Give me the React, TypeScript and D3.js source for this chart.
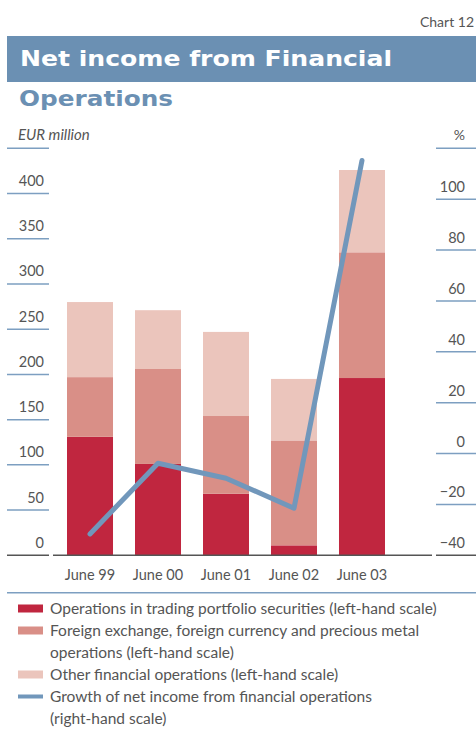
import React from "react";
import * as d3 from "d3";

const categories = ["June 99", "June 00", "June 01", "June 02", "June 03"];
const trading = [131, 101, 68, 11, 196];
const foreignExchange = [66, 105, 86, 116, 139];
const otherOps = [83, 65, 93, 68, 91];
const growth = [-31.6, -3.8, -9.7, -21.5, 115.2];

const leftTicks = [0, 50, 100, 150, 200, 250, 300, 350, 400];
const rightTicks = [-40, -20, 0, 20, 40, 60, 80, 100];

const seriesNames = ["trading", "fx", "other"];
const colors = ["#c0263f", "#d98f87", "#ebc5bc"];
const lineColor = "#7197bb";
const tickBlue = "#7d9fc1";

const legendRows = [
  { kind: "rect", color: colors[0], lines: ["Operations in trading portfolio securities (left-hand scale)"] },
  { kind: "rect", color: colors[1], lines: ["Foreign exchange, foreign currency and precious metal", "operations (left-hand scale)"] },
  { kind: "rect", color: colors[2], lines: ["Other financial operations (left-hand scale)"] },
  { kind: "line", color: lineColor, lines: ["Growth of net income from financial operations", "(right-hand scale)"] },
];

const App = () => {
  const width = 476;
  const height = 731;
  const y0 = 555.3;
  const yTop = 148.3;

  const yLeft = d3.scaleLinear().domain([0, 450]).range([y0, yTop]);
  const yRight = d3.scaleLinear().domain([-40, 120]).range([y0, yTop]);
  const x = d3.scaleBand().domain(categories).range([53, 399]).paddingInner(0.3235).paddingOuter(0.206);

  const table = categories.map((c, i) => ({ cat: c, trading: trading[i], fx: foreignExchange[i], other: otherOps[i] }));
  const stacked = d3.stack<any>().keys(seriesNames)(table);

  const line = d3
    .line<number>()
    .x((_, i) => x(categories[i])! + x.bandwidth() / 2)
    .y((d) => yRight(d));

  const font = "Lato, 'Open Sans', sans-serif";
  const textColor = "#555";

  return (
    <svg width={width} height={height} style={{ position: "absolute", left: 0, top: 0 }} fontFamily={font}>
      <text x={474} y={27} textAnchor="end" fontSize={14} fill={textColor}>Chart 12</text>
      <rect x={7} y={36} width={469} height={46} fill="#6b90b3" />
      <text x={20} y={66} fontSize={22} fontWeight={900} fill="white" fontFamily="'DejaVu Sans', sans-serif" textLength={372} lengthAdjust="spacingAndGlyphs">
        Net income from Financial
      </text>
      <text x={19} y={106} fontSize={22} fontWeight={900} fill="#6b90b3" fontFamily="'DejaVu Sans', sans-serif" textLength={154} lengthAdjust="spacingAndGlyphs">
        Operations
      </text>

      {/* left axis */}
      <text x={18} y={140} fontSize={15} fontStyle="italic" fill={textColor}>EUR million</text>
      <line x1={7} x2={49} y1={yTop} y2={yTop} stroke={tickBlue} strokeWidth={1.5} />
      {leftTicks.map((t) => (
        <g key={"l" + t}>
          {t > 0 && <line x1={7} x2={49} y1={yLeft(t)} y2={yLeft(t)} stroke={tickBlue} strokeWidth={1.5} />}
          <text x={44} y={yLeft(t) - 7.5} textAnchor="end" fontSize={14.5} fill={textColor}>{t}</text>
        </g>
      ))}

      {/* right axis */}
      <text x={465} y={140} textAnchor="end" fontSize={14} fill={textColor}>%</text>
      <line x1={436} x2={476} y1={yTop} y2={yTop} stroke={tickBlue} strokeWidth={1.5} />
      {rightTicks.map((t) => (
        <g key={"r" + t}>
          {t > -40 && <line x1={436} x2={476} y1={yRight(t)} y2={yRight(t)} stroke={tickBlue} strokeWidth={1.5} />}
          <text x={465} y={yRight(t) - 7} textAnchor="end" fontSize={14.5} fill={textColor}>
            {t < 0 ? "\u2212" + Math.abs(t) : t}
          </text>
        </g>
      ))}

      {/* bars */}
      {stacked.map((s, si) => (
        <g key={s.key} fill={colors[si]}>
          {s.map((d, i) => (
            <rect
              key={i}
              x={x(categories[i])}
              width={x.bandwidth()}
              y={yLeft(d[1])}
              height={yLeft(d[0]) - yLeft(d[1])}
            />
          ))}
        </g>
      ))}

      {/* baselines */}
      <line x1={7} x2={49} y1={y0} y2={y0} stroke="#555" strokeWidth={1.5} />
      <line x1={53} x2={432} y1={y0} y2={y0} stroke="#555" strokeWidth={1.5} />
      <line x1={436} x2={476} y1={y0} y2={y0} stroke="#555" strokeWidth={1.5} />

      {/* growth line */}
      <path d={line(growth)!} fill="none" stroke={lineColor} strokeWidth={5} strokeLinecap="round" strokeLinejoin="round" />

      {/* x labels */}
      {categories.map((c) => (
        <text key={c} x={x(c)! + x.bandwidth() / 2} y={580} textAnchor="middle" fontSize={14.5} fill={textColor}>{c}</text>
      ))}

      <line x1={7} x2={476} y1={592.7} y2={592.7} stroke={tickBlue} strokeWidth={1.5} />

      {/* legend */}
      {(() => {
        let row = 0;
        return legendRows.map((r, i) => {
          const startRow = row;
          row += r.lines.length;
          const cy = 608.5 + startRow * 22;
          return (
            <g key={i}>
              {r.kind === "rect" ? (
                <rect x={18} y={cy - 4} width={25} height={8} fill={r.color} />
              ) : (
                <line x1={18} x2={43} y1={cy} y2={cy} stroke={r.color} strokeWidth={4} />
              )}
              {r.lines.map((l, li) => (
                <text key={li} x={50} y={cy + 5 + li * 22} fontSize={15.5} fill={textColor}>{l}</text>
              ))}
            </g>
          );
        });
      })()}
    </svg>
  );
};

export default App;
